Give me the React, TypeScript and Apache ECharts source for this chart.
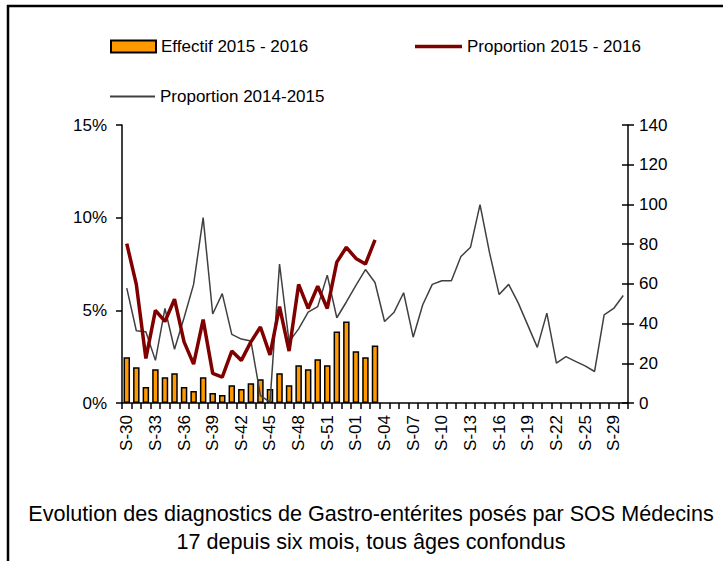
import React, { useEffect, useRef } from "react";
import * as echarts from "echarts";

const weeks = [
  "S-30", "S-31", "S-32", "S-33", "S-34", "S-35", "S-36", "S-37", "S-38", "S-39",
  "S-40", "S-41", "S-42", "S-43", "S-44", "S-45", "S-46", "S-47", "S-48", "S-49",
  "S-50", "S-51", "S-52", "S-53", "S-01", "S-02", "S-03", "S-04", "S-05", "S-06",
  "S-07", "S-08", "S-09", "S-10", "S-11", "S-12", "S-13", "S-14", "S-15", "S-16",
  "S-17", "S-18", "S-19", "S-20", "S-21", "S-22", "S-23", "S-24", "S-25", "S-26",
  "S-27", "S-29", "S-30",
];

const effectif20152016 = [
  23, 18, 8, 17, 13, 15, 8, 6, 13, 5, 4, 9, 7, 10, 12, 7, 15, 9, 19, 17, 22, 19, 36, 41, 26, 23, 29,
];

const proportion20152016 = [
  8.6, 6.4, 2.4, 5.0, 4.4, 5.6, 3.3, 2.1, 4.5, 1.6, 1.4, 2.8, 2.3, 3.3, 4.1, 2.6, 5.2, 2.8, 6.4, 5.1,
  6.3, 5.1, 7.6, 8.4, 7.8, 7.5, 8.8,
];

const proportion20142015 = [
  6.2, 3.9, 3.85, 2.3, 5.1, 2.9, 4.6, 6.4, 10.0, 4.8, 5.9, 3.7, 3.45, 3.35, 0.4, 0.05, 7.5, 3.3, 4.0,
  4.9, 5.2, 6.9, 4.6, 5.45, 6.35, 7.2, 6.5, 4.4, 4.9, 5.95, 3.55, 5.3, 6.4, 6.6, 6.6, 7.9, 8.4, 10.7,
  8.1, 5.85, 6.4, 5.4, 4.2, 3.0, 4.85, 2.15, 2.5, 2.25, 2.0, 1.7, 4.75, 5.1, 5.8,
];

const leftTicks = { min: 0, max: 15, interval: 5 };
const rightTicks = { min: 0, max: 140, interval: 20 };

const titleLines = [
  "Evolution des diagnostics de Gastro-entérites posés par SOS Médecins",
  "17 depuis six mois, tous âges confondus",
];

const FONT = "'Liberation Sans', Arial, sans-serif";

export default function App() {
  const ref = useRef<HTMLDivElement>(null);

  useEffect(() => {
    if (!ref.current) return;
    const chart = echarts.init(ref.current, null, { renderer: "svg" });
    const axisText = { color: "#000", fontSize: 17, fontFamily: FONT };
    const legendText = { color: "#000", fontSize: 17, fontFamily: FONT };
    chart.setOption({
      animation: false,
      backgroundColor: "#fff",
      textStyle: { fontFamily: FONT },
      legend: [
        {
          left: 110,
          top: 38,
          padding: 0,
          itemWidth: 45,
          itemHeight: 12,
          data: [{ name: "Effectif 2015 - 2016", icon: "rect" }],
          textStyle: { ...legendText },
        },
        {
          left: 415,
          top: 38,
          padding: 0,
          itemWidth: 47,
          itemHeight: 3.5,
          data: [{ name: "Proportion 2015 - 2016", icon: "rect" }],
          textStyle: { ...legendText },
        },
        {
          left: 110,
          top: 88,
          padding: 0,
          itemWidth: 45,
          itemHeight: 2,
          data: [{ name: "Proportion 2014-2015", icon: "rect" }],
          textStyle: { ...legendText },
        },
      ],
      grid: { left: 122, right: 95, top: 125, bottom: 158, containLabel: false },
      xAxis: {
        type: "category",
        data: weeks,
        boundaryGap: true,
        axisLine: { lineStyle: { color: "#000", width: 1.5 } },
        axisTick: { show: true, alignWithLabel: false, interval: 0, length: 6, lineStyle: { color: "#000", width: 1.5 } },
        axisLabel: { ...axisText, rotate: 90, interval: 2, margin: 12 },
        splitLine: { show: false },
      },
      yAxis: [
        {
          type: "value",
          position: "left",
          ...leftTicks,
          axisLine: { show: true, lineStyle: { color: "#000", width: 1.5 } },
          axisTick: { show: true, length: 6, lineStyle: { color: "#000", width: 1.5 } },
          axisLabel: { ...axisText, formatter: "{value}%", margin: 15 },
          splitLine: { show: false },
        },
        {
          type: "value",
          position: "right",
          ...rightTicks,
          axisLine: { show: true, lineStyle: { color: "#000", width: 1.5 } },
          axisTick: { show: true, length: 6, lineStyle: { color: "#000", width: 1.5 } },
          axisLabel: { ...axisText, margin: 11 },
          splitLine: { show: false },
        },
        {
          type: "value",
          position: "right",
          ...rightTicks,
          axisLine: { show: false },
          axisTick: { show: true, inside: true, length: 6, lineStyle: { color: "#000", width: 1.5 } },
          axisLabel: { show: false },
          splitLine: { show: false },
        },
      ],
      series: [
        {
          name: "Effectif 2015 - 2016",
          type: "bar",
          yAxisIndex: 1,
          data: effectif20152016,
          barWidth: "68%",
          itemStyle: { color: "#FF9900", borderColor: "#000", borderWidth: 1.5 },
          z: 1,
        },
        {
          name: "Proportion 2015 - 2016",
          type: "line",
          yAxisIndex: 0,
          data: proportion20152016,
          symbol: "none",
          lineStyle: { color: "#800000", width: 3.5 },
          itemStyle: { color: "#800000" },
          z: 3,
        },
        {
          name: "Proportion 2014-2015",
          type: "line",
          yAxisIndex: 0,
          data: proportion20142015,
          symbol: "none",
          lineStyle: { color: "#404040", width: 1.5 },
          itemStyle: { color: "#404040" },
          z: 2,
        },
      ],
      graphic: [
        {
          type: "text",
          x: 371,
          y: 499,
          silent: true,
          style: {
            text: titleLines.join("\n"),
            fill: "#000",
            fontSize: 21.6,
            fontFamily: FONT,
            lineHeight: 28,
            align: "center",
            verticalAlign: "top",
          },
        },
        {
          type: "line",
          shape: { x1: 7, y1: 6, x2: 723, y2: 6 },
          style: { stroke: "#000", lineWidth: 2.5 },
          silent: true,
        },
        {
          type: "line",
          shape: { x1: 8, y1: 5, x2: 8, y2: 561 },
          style: { stroke: "#000", lineWidth: 2.5 },
          silent: true,
        },
      ],
    });
    return () => chart.dispose();
  }, []);

  return (
    <div
      ref={ref}
      style={{ position: "fixed", left: 0, top: 0, width: 723, height: 561, background: "#fff" }}
    />
  );
}
